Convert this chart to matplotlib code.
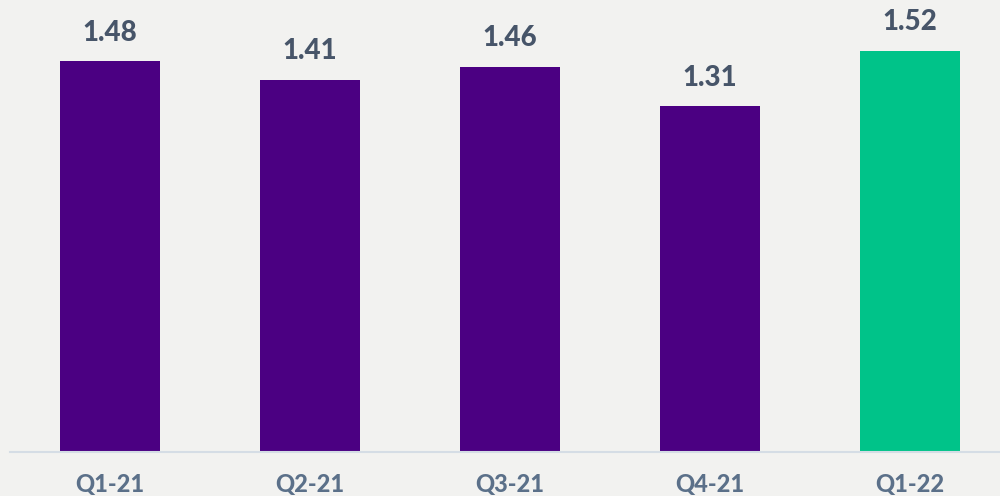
import matplotlib
matplotlib.use("Agg")
from matplotlib import pyplot as plt

quarters = ["Q1-21", "Q2-21", "Q3-21", "Q4-21", "Q1-22"]
values = [1.48, 1.41, 1.46, 1.31, 1.52]
bar_colors = ["#4b0082", "#4b0082", "#4b0082", "#4b0082", "#00c389"]

bg = "#f2f2f0"
fig = plt.figure(figsize=(10, 4.96), dpi=100, facecolor=bg)
ax = fig.add_axes([0.01, 44 / 496, 0.99, 452 / 496], facecolor=bg)

x = range(len(quarters))
ax.bar(x, values, width=0.5, color=bar_colors, zorder=2)

for xi, v in zip(x, values):
    ax.annotate(f"{v:.2f}", (xi, v), xytext=(0, 11), textcoords="offset points",
                ha="center", va="bottom", fontsize=20, fontweight="black",
                fontfamily="Lato", color="#475569")

ax.set_xlim(-0.5, 4.45)
ax.set_ylim(0, 452 / 264)
ax.set_xticks(list(x))
ax.set_xticklabels(quarters, fontsize=17, fontweight="black", fontfamily="Lato",
                   color="#5b7089")
ax.tick_params(axis="x", length=0, pad=15)
ax.set_yticks([])
for side in ["top", "right", "left"]:
    ax.spines[side].set_visible(False)
ax.spines["bottom"].set_color("#d5dde5")
ax.spines["bottom"].set_linewidth(1.5)

fig.savefig("out.png", dpi=100, facecolor=bg)
